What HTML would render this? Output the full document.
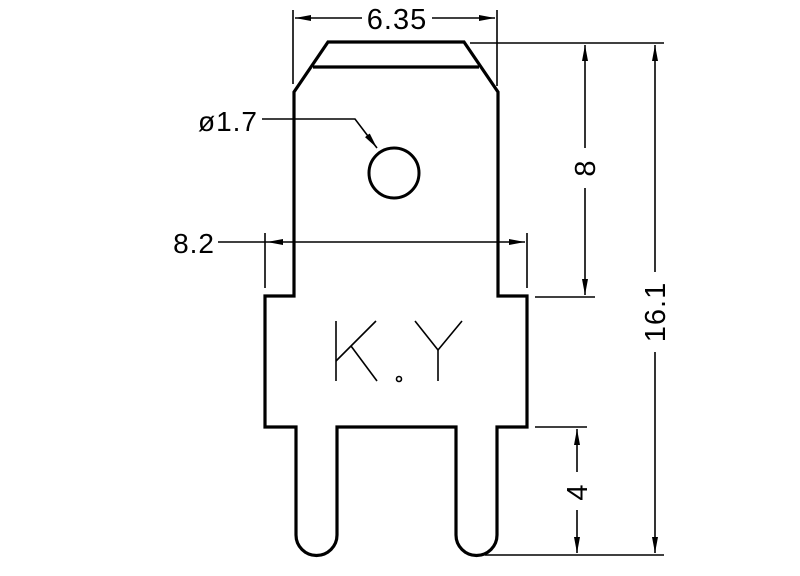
<!DOCTYPE html>
<html><head><style>html,body{margin:0;padding:0;background:#fff}svg{display:block}text{font-family:"Liberation Sans",sans-serif;fill:#000;letter-spacing:1px}</style></head><body>
<svg width="800" height="576" viewBox="0 0 800 576" xmlns="http://www.w3.org/2000/svg">
<defs>
<marker id="a" viewBox="0 0 16 6" refX="16" refY="3" markerWidth="16" markerHeight="6" markerUnits="userSpaceOnUse" orient="auto"><path d="M0,0 L16,3 L0,6 Z" fill="#000"/></marker>
</defs>
<g fill="none" stroke="#000" stroke-width="3.2" stroke-linejoin="miter">
<path d="M294,296 L294,92 L328,42 L464,42 L498,92 L498,296 L527,296 L527,427 L497,427 L497,535 A20,20 0 0 1 456,535 L456,427 L337,427 L337,535 A20,20 0 0 1 296,535 L296,427 L265,427 L265,296 Z"/>
<line x1="313" y1="67" x2="479" y2="67"/>
<circle cx="394" cy="173" r="25" stroke-width="3"/>
</g>
<g stroke="#000" stroke-width="1.6" fill="none">
<line x1="293" y1="10" x2="293" y2="84"/>
<line x1="497" y1="10" x2="497" y2="86"/>
<line x1="362" y1="18" x2="295" y2="18" marker-end="url(#a)"/>
<line x1="432" y1="18" x2="495" y2="18" marker-end="url(#a)"/>
<polyline points="262,119 355,119 377,148" marker-end="url(#a)"/>
<line x1="218" y1="242" x2="267" y2="242"/>
<line x1="294" y1="242" x2="267" y2="242" marker-end="url(#a)"/>
<line x1="294" y1="242" x2="525" y2="242" marker-end="url(#a)"/>
<line x1="265" y1="233" x2="265" y2="288"/>
<line x1="527" y1="233" x2="527" y2="288"/>
<line x1="470" y1="43" x2="664" y2="43"/>
<line x1="535" y1="297" x2="595" y2="297"/>
<line x1="535" y1="427" x2="587" y2="427"/>
<line x1="485" y1="555" x2="664" y2="555"/>
<line x1="585" y1="148" x2="585" y2="45" marker-end="url(#a)"/>
<line x1="585" y1="188" x2="585" y2="295" marker-end="url(#a)"/>
<line x1="655" y1="272" x2="655" y2="45" marker-end="url(#a)"/>
<line x1="655" y1="352" x2="655" y2="553" marker-end="url(#a)"/>
<line x1="577" y1="472" x2="577" y2="429" marker-end="url(#a)"/>
<line x1="577" y1="510" x2="577" y2="553" marker-end="url(#a)"/>
<line x1="336" y1="321" x2="336" y2="381"/>
<line x1="376" y1="321" x2="336" y2="361"/>
<line x1="351" y1="346" x2="377" y2="381"/>
<circle cx="399" cy="379" r="2.5"/>
<line x1="415" y1="321" x2="438" y2="350"/>
<line x1="462" y1="321" x2="438" y2="350"/>
<line x1="438" y1="350" x2="438" y2="381"/>
</g>
<text x="397" y="29" font-size="29" text-anchor="middle">6.35</text>
<text x="258" y="131" font-size="28" text-anchor="end">ø1.7</text>
<text x="215" y="253" font-size="28" text-anchor="end">8.2</text>
<text transform="translate(595,168) rotate(-90)" font-size="29" text-anchor="middle">8</text>
<text transform="translate(665,312) rotate(-90)" font-size="29" text-anchor="middle">16.1</text>
<text transform="translate(587,492) rotate(-90)" font-size="29" text-anchor="middle">4</text>
</svg>
</body></html>
